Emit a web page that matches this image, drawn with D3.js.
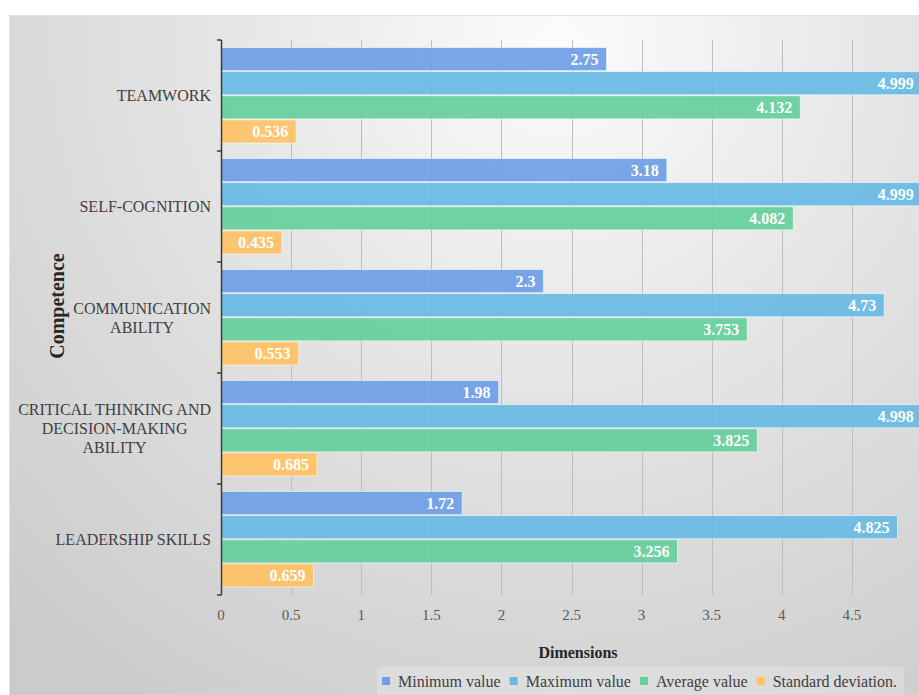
<!DOCTYPE html>
<html>
<head>
<meta charset="utf-8">
<script src="https://cdn.jsdelivr.net/npm/d3@7"></script>
<style>
  html, body { margin: 0; padding: 0; background: #ffffff; }
  svg { display: block; }
</style>
</head>
<body>
<div id="chart"></div>
<script>
// ---------- data ----------
const categories = [
  "TEAMWORK",
  "SELF-COGNITION",
  "COMMUNICATION ABILITY",
  "CRITICAL THINKING AND DECISION-MAKING ABILITY",
  "LEADERSHIP SKILLS"
];
const categoryLines = [
  ["TEAMWORK"],
  ["SELF-COGNITION"],
  ["COMMUNICATION", "ABILITY"],
  ["CRITICAL THINKING AND", "DECISION-MAKING", "ABILITY"],
  ["LEADERSHIP SKILLS"]
];
const seriesNames = ["Minimum value", "Maximum value", "Average value", "Standard deviation."];
const minimumValues = [2.75, 3.18, 2.3, 1.98, 1.72];
const maximumValues = [4.999, 4.999, 4.73, 4.998, 4.825];
const averageValues = [4.132, 4.082, 3.753, 3.825, 3.256];
const stdDevValues  = [0.536, 0.435, 0.553, 0.685, 0.659];
const xTickValues = [0, 0.5, 1, 1.5, 2, 2.5, 3, 3.5, 4, 4.5];
const xTickLabels = ["0", "0.5", "1", "1.5", "2", "2.5", "3", "3.5", "4", "4.5"];
const seriesColors = ["#6E9FE6", "#68BAE3", "#66CF9C", "#FFC266"];

const seriesValues = [minimumValues, maximumValues, averageValues, stdDevValues];

// ---------- layout ----------
const W = 919, H = 695;
const plotLeft = 221, plotRight = 922, plotTop = 40, plotBottom = 595;
const serif = "'Liberation Serif', 'Times New Roman', serif";

const svg = d3.select("#chart").append("svg")
  .attr("width", W).attr("height", H);

const defs = svg.append("defs");
const grad = defs.append("radialGradient")
  .attr("id", "bg").attr("gradientUnits", "userSpaceOnUse")
  .attr("cx", 560).attr("cy", 40).attr("r", 800);
grad.append("stop").attr("offset", 0).attr("stop-color", "#fcfcfc");
grad.append("stop").attr("offset", 0.45).attr("stop-color", "#e4e4e4");
grad.append("stop").attr("offset", 1).attr("stop-color", "#cbcbcb");

svg.append("rect").attr("x", 0).attr("y", 0).attr("width", W).attr("height", H).attr("fill", "#ffffff");
svg.append("rect").attr("x", 9).attr("y", 15).attr("width", W - 9).attr("height", H - 15)
  .attr("fill", "url(#bg)");
svg.append("line").attr("x1", 9).attr("x2", W).attr("y1", 15.5).attr("y2", 15.5)
  .attr("stroke", "#e2e2e2").attr("stroke-width", 1);
svg.append("line").attr("x1", 9.5).attr("x2", 9.5).attr("y1", 15).attr("y2", H)
  .attr("stroke", "#e2e2e2").attr("stroke-width", 1);

// ---------- scales ----------
const x = d3.scaleLinear().domain([0, 5]).range([plotLeft, plotRight]);
const y = d3.scaleBand().domain(categories).range([plotTop, plotBottom]).paddingInner(0).paddingOuter(0);
const ySeries = d3.scaleBand().domain(seriesNames).range([7.5, y.bandwidth() - 8]).paddingInner(0.04);

// ---------- gridlines ----------
const gridVals = [0.5, 1, 1.5, 2, 2.5, 3, 3.5, 4, 4.5, 5];
svg.append("g").selectAll("line").data(gridVals).join("line")
  .attr("x1", d => Math.round(x(d)) + 0.5).attr("x2", d => Math.round(x(d)) + 0.5)
  .attr("y1", plotTop).attr("y2", plotBottom)
  .attr("stroke", "#bdbdbd").attr("stroke-width", 1);

// ---------- bars ----------
const barsG = svg.append("g");
categories.forEach((cat, ci) => {
  seriesNames.forEach((s, si) => {
    const v = seriesValues[si][ci];
    const y0 = y(cat) + ySeries(s);
    barsG.append("rect")
      .attr("x", x(0)).attr("y", y0)
      .attr("width", x(v) - x(0)).attr("height", ySeries.bandwidth())
      .attr("fill", seriesColors[si]).attr("fill-opacity", 0.93)
      .attr("stroke", "rgba(255,255,255,0.55)").attr("stroke-width", 1);
    barsG.append("text")
      .attr("x", Math.min(x(v), 922) - 8)
      .attr("y", y0 + ySeries.bandwidth() / 2)
      .attr("dy", "0.35em")
      .attr("text-anchor", "end")
      .attr("font-family", serif).attr("font-weight", "bold").attr("font-size", 16)
      .attr("fill", "#ffffff")
      .text(String(v));
  });
});

// ---------- y axis ----------
const yAxisG = svg.append("g");
yAxisG.append("line")
  .attr("x1", plotLeft + 0.5).attr("x2", plotLeft + 0.5)
  .attr("y1", plotTop).attr("y2", plotBottom)
  .attr("stroke", "#3a3a3a").attr("stroke-width", 1.5);
const boundaries = categories.map(c => y(c)).concat([plotBottom]);
yAxisG.selectAll("line.tk").data(boundaries).join("line").attr("class", "tk")
  .attr("x1", plotLeft - 4).attr("x2", plotLeft + 0.5)
  .attr("y1", d => d).attr("y2", d => d)
  .attr("stroke", "#3a3a3a").attr("stroke-width", 1.5);

// category labels (right edge at 211, lines centered within the block)
const catG = svg.append("g");
categories.forEach((cat, ci) => {
  const lines = categoryLines[ci];
  const lh = 19;
  const cy = y(cat) + y.bandwidth() / 2;
  const t = catG.append("text")
    .attr("font-family", serif).attr("font-size", 16).attr("fill", "#404040")
    .attr("text-anchor", "middle");
  const spans = lines.map((ln, li) => t.append("tspan")
    .attr("y", cy + (li - (lines.length - 1) / 2) * lh)
    .attr("dy", "0.35em").text(ln));
  let maxW = 0;
  spans.forEach(sp => { maxW = Math.max(maxW, sp.node().getComputedTextLength()); });
  spans.forEach(sp => sp.attr("x", 211 - maxW / 2));
});

// ---------- x axis tick labels ----------
svg.append("g").selectAll("text").data(xTickValues).join("text")
  .attr("x", d => x(d)).attr("y", 615).attr("dy", "0.35em")
  .attr("text-anchor", "middle")
  .attr("font-family", serif).attr("font-size", 15).attr("fill", "#595959")
  .text((d, i) => xTickLabels[i]);

// ---------- axis titles ----------
svg.append("text")
  .attr("x", 578).attr("y", 652).attr("dy", "0.35em")
  .attr("text-anchor", "middle")
  .attr("font-family", serif).attr("font-weight", "bold").attr("font-size", 16).attr("fill", "#262626")
  .text("Dimensions");
svg.append("text")
  .attr("transform", "translate(57,306) rotate(-90)")
  .attr("dy", "0.35em")
  .attr("text-anchor", "middle")
  .attr("font-family", serif).attr("font-weight", "bold").attr("font-size", 20).attr("fill", "#262626")
  .text("Competence");

// ---------- legend ----------
const legG = svg.append("g");
const legBg = legG.append("rect").attr("x", 377).attr("y", 667).attr("height", 28)
  .attr("fill", "rgba(255,255,255,0.22)");
let lx = 382;
seriesNames.forEach((s, si) => {
  legG.append("rect").attr("x", lx).attr("y", 677).attr("width", 8).attr("height", 8)
    .attr("fill", seriesColors[si]);
  const tx = legG.append("text").attr("x", lx + 16).attr("y", 681).attr("dy", "0.35em")
    .attr("font-family", serif).attr("font-size", 16).attr("fill", "#404040").text(s);
  lx = lx + 16 + tx.node().getComputedTextLength() + 9;
});
legBg.attr("width", lx - 377 - 2);
</script>
</body>
</html>
